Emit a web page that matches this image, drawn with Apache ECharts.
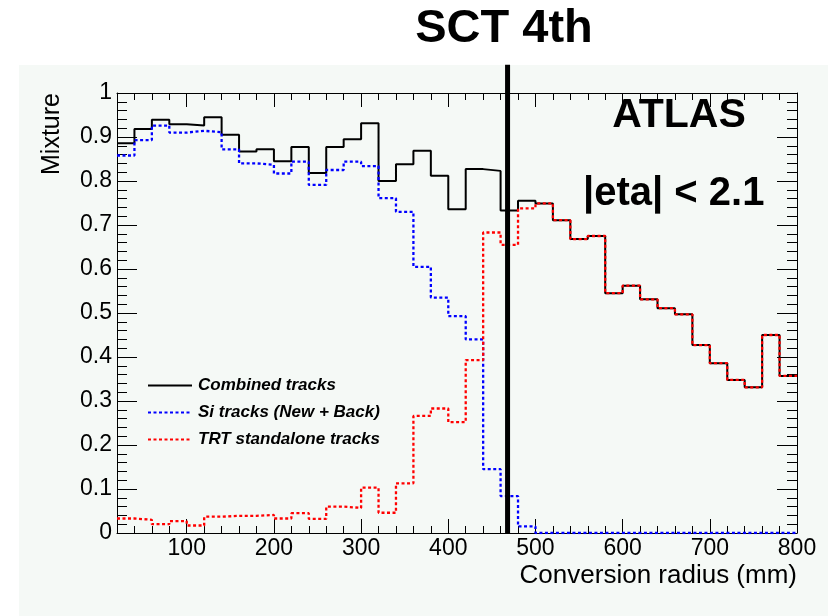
<!DOCTYPE html>
<html>
<head>
<meta charset="utf-8">
<script src="https://cdn.jsdelivr.net/npm/echarts@6/dist/echarts.min.js"></script>
<style>
  html, body { margin: 0; padding: 0; background: #ffffff; }
  #chart { width: 828px; height: 616px; }
</style>
</head>
<body>
<div id="chart"></div>
<script>
// Lower edges of the 20 mm conversion-radius bins; the last bin closes at 800 mm.
const binLow = [20, 40, 60, 80, 100, 120, 140, 160, 180, 200,
                220, 240, 260, 280, 300, 320, 340, 360, 380, 400,
                420, 440, 460, 480, 500, 520, 540, 560, 580, 600,
                620, 640, 660, 680, 700, 720, 740, 760, 780];
const binHigh = 800;

// Fraction of conversions per bin
const combinedTracks = [0.886, 0.918, 0.939, 0.929, 0.926, 0.945, 0.905, 0.867, 0.872, 0.845,
                        0.877, 0.818, 0.877, 0.895, 0.931, 0.800, 0.838, 0.869, 0.812, 0.736,
                        0.827, 0.823, 0.733, 0.755, 0.749, 0.711, 0.668, 0.675, 0.545, 0.562,
                        0.531, 0.511, 0.497, 0.427, 0.386, 0.348, 0.331, 0.450, 0.357];
const siTracks =       [0.858, 0.893, 0.926, 0.910, 0.914, 0.911, 0.872, 0.840, 0.837, 0.817,
                        0.844, 0.791, 0.825, 0.844, 0.834, 0.761, 0.730, 0.605, 0.535, 0.493,
                        0.440, 0.145, 0.084, 0.015, 0, 0, 0, 0, 0, 0,
                        0, 0, 0, 0, 0, 0, 0, 0, 0];
const trtTracks =      [0.033, 0.030, 0.020, 0.027, 0.017, 0.037, 0.039, 0.039, 0.041, 0.033,
                        0.045, 0.032, 0.060, 0.057, 0.103, 0.046, 0.113, 0.266, 0.283, 0.252,
                        0.393, 0.683, 0.655, 0.738, 0.749, 0.711, 0.668, 0.675, 0.545, 0.562,
                        0.531, 0.511, 0.497, 0.427, 0.386, 0.348, 0.331, 0.450, 0.357];

// Radius of the 4th SCT barrel layer (mm)
const sctLayerRadius = 468;

// Axis ticks
const xMajorTicks = [100, 200, 300, 400, 500, 600, 700, 800];
const xMinorStep = 20;
const yMajorStep = 0.1;

const seriesNames = ['Combined tracks', 'Si tracks (New + Back)', 'TRT standalone tracks'];

const FONT = '"Liberation Sans", Arial, Helvetica, sans-serif';

// Histogram outline: one point per lower edge plus the closing upper edge.
function histPoints(values) {
  const pts = binLow.map((x, i) => [x, values[i]]);
  pts.push([binHigh, values[values.length - 1]]);
  return pts;
}

function yLabel(v) {
  if (Math.abs(v) < 1e-9) return '0';
  if (Math.abs(v - 1) < 1e-9) return '1';
  return v.toFixed(1);
}

const chart = echarts.init(document.getElementById('chart'), null, { renderer: 'canvas' });

const axisColor = '#000000';
const baseX = { type: 'value', min: binLow[0], max: binHigh, gridIndex: 0, splitLine: { show: false } };
const baseY = { type: 'value', min: 0, max: 1, interval: yMajorStep, gridIndex: 0, splitLine: { show: false } };

chart.setOption({
  animation: false,
  backgroundColor: '#ffffff',
  grid: { left: 117, right: 31, top: 93, bottom: 83, containLabel: false, outerBoundsMode: 'none',
          show: true, backgroundColor: '#f5f9f6', borderWidth: 0 },
  graphic: [
    { type: 'rect', z: -10, silent: true, shape: { x: 19, y: 65, width: 809, height: 551 },
      style: { fill: '#f5f9f6' } },
    { type: 'text', z: 10, x: 504, y: 29, style: { text: 'SCT 4th', font: 'bold 47px ' + FONT,
      fill: '#000', textAlign: 'center', textVerticalAlign: 'middle' } },
    { type: 'text', z: 10, x: 679, y: 116, style: { text: 'ATLAS', font: 'bold 41px ' + FONT,
      fill: '#000', textAlign: 'center', textVerticalAlign: 'middle' } },
    { type: 'text', z: 10, x: 583, y: 194, style: { text: '|eta| < 2.1', font: 'bold 40px ' + FONT,
      fill: '#000', textAlign: 'left', textVerticalAlign: 'middle' } },
    { type: 'text', z: 10, x: 797, y: 576, style: { text: 'Conversion radius (mm)', font: '26px ' + FONT,
      fill: '#000', textAlign: 'right', textVerticalAlign: 'middle' } },
    { type: 'text', z: 10, x: 52, y: 134, rotation: Math.PI / 2,
      style: { text: 'Mixture', font: '25px ' + FONT, fill: '#000', textAlign: 'center', textVerticalAlign: 'middle' } }
  ],
  legend: {
    orient: 'vertical', left: 142, top: 372, itemWidth: 44, itemHeight: 12, itemGap: 10,
    data: seriesNames,
    itemStyle: { opacity: 0 },
    textStyle: { fontFamily: FONT, fontSize: 17, fontWeight: 'bold', fontStyle: 'italic', color: '#000',
                 padding: [0, 0, 0, 1] },
    selectedMode: false
  },
  xAxis: [
    Object.assign({}, baseX, {
      position: 'bottom',
      axisLine: { show: true, lineStyle: { color: axisColor, width: 1 } },
      axisTick: { show: true, inside: true, length: 14, customValues: xMajorTicks, lineStyle: { color: axisColor } },
      axisLabel: { show: true, customValues: xMajorTicks, margin: 4, fontFamily: FONT, fontSize: 23, color: '#000' }
    }),
    Object.assign({}, baseX, {
      position: 'bottom', interval: xMinorStep,
      axisLine: { show: false },
      axisTick: { show: true, inside: true, length: 7, lineStyle: { color: axisColor } },
      axisLabel: { show: false }
    }),
    Object.assign({}, baseX, {
      position: 'top',
      axisLine: { show: true, lineStyle: { color: axisColor, width: 1 } },
      axisTick: { show: true, inside: true, length: 14, customValues: xMajorTicks, lineStyle: { color: axisColor } },
      axisLabel: { show: false }
    }),
    Object.assign({}, baseX, {
      position: 'top', interval: xMinorStep,
      axisLine: { show: false },
      axisTick: { show: true, inside: true, length: 7, lineStyle: { color: axisColor } },
      axisLabel: { show: false }
    })
  ],
  yAxis: [
    Object.assign({}, baseY, {
      position: 'left',
      axisLine: { show: true, lineStyle: { color: axisColor, width: 1 } },
      axisTick: { show: true, inside: true, length: 20, lineStyle: { color: axisColor } },
      minorTick: { show: true, splitNumber: 5, length: 10, lineStyle: { color: axisColor } },
      axisLabel: { show: true, margin: 5, fontFamily: FONT, fontSize: 23, color: '#000', formatter: yLabel }
    }),
    Object.assign({}, baseY, {
      position: 'right',
      axisLine: { show: true, lineStyle: { color: axisColor, width: 1 } },
      axisTick: { show: true, inside: true, length: 20, lineStyle: { color: axisColor } },
      minorTick: { show: true, splitNumber: 5, length: 10, lineStyle: { color: axisColor } },
      axisLabel: { show: false }
    })
  ],
  series: [
    {
      name: seriesNames[0], type: 'line', step: 'end', symbol: 'none', xAxisIndex: 0, yAxisIndex: 0,
      data: histPoints(combinedTracks),
      lineStyle: { color: '#000000', width: 2 }, itemStyle: { color: '#000000' }, z: 3
    },
    {
      name: seriesNames[1], type: 'line', step: 'end', symbol: 'none', xAxisIndex: 0, yAxisIndex: 0,
      data: histPoints(siTracks),
      lineStyle: { color: '#0000ff', width: 2.3, type: [3, 2.5] }, itemStyle: { color: '#0000ff' }, z: 4
    },
    {
      name: seriesNames[2], type: 'line', step: 'end', symbol: 'none', xAxisIndex: 0, yAxisIndex: 0,
      data: histPoints(trtTracks),
      lineStyle: { color: '#ff0000', width: 2.3, type: [3, 2.5] }, itemStyle: { color: '#ff0000' }, z: 5
    },
    {
      // SCT 4th layer marker, running up past the frame
      name: 'SCT 4th layer', type: 'line', symbol: 'none', clip: false, xAxisIndex: 0, yAxisIndex: 0,
      data: [[sctLayerRadius, 0], [sctLayerRadius, 1.064]],
      lineStyle: { color: '#000000', width: 5 }, z: 6, silent: true
    }
  ]
});
</script>
</body>
</html>
